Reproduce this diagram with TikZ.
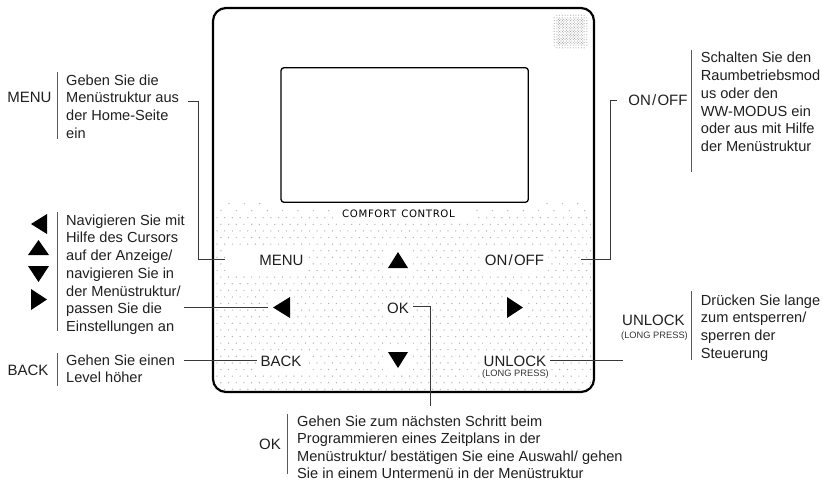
\documentclass[tikz,border=0pt]{standalone}
\usepackage{fontspec}
\setmainfont{Liberation Sans}
\newfontfamily\techfont[LetterSpace=6]{DejaVu Sans}
\tikzset{
  body/.style={inner sep=0pt,anchor=north west,align=left,text=black!88,font=\fontsize{14.6}{17.75}\selectfont},
  lab/.style={inner sep=0pt,text=black!88,font=\fontsize{15}{18}\selectfont},
  small/.style={inner sep=0pt,text=black!80,font=\fontsize{9.3}{11}\selectfont},
  bar/.style={draw=black!65,line width=0.9pt},
  lead/.style={draw=black!78,line width=0.9pt},
  tri/.style={fill=black},
  frame/.style={draw=black,line width=2.2pt,rounded corners=13pt},
  screen/.style={draw=black,line width=1.3pt,rounded corners=3pt},
  mesh/.style={fill=black!30},
  grille/.style={fill=black!38},
}
\begin{document}
\begin{tikzpicture}[x=1pt,y=-1pt]
\useasboundingbox (0,0) rectangle (823,480);
% textured lower panel
\begin{scope}
\clip[rounded corners=13pt] (213,8) rectangle (594,392);
\foreach \r in {0,...,26}{
  \pgfmathsetmacro{\yy}{217.7+6.6*\r}
  \pgfmathsetmacro{\xo}{217+3.85*mod(\r,2)}
  \foreach \c in {0,...,48}{
    \fill[mesh] ({\xo+7.7*\c},\yy) circle (0.7);
  }
}
\foreach \xx in {229,244.4,259.8,547,562.4,577.8}{\fill[mesh] (\xx,203.6) circle (0.7);}
\foreach \xx in {221,236.4,251.8,267.2,282.6,298,313.4,328.8,477,492.4,507.8,523.2,538.6,554,569.4,584.8}{\fill[mesh] (\xx,210.6) circle (0.7);}
\end{scope}
% clear areas round the printed keys
\fill[white] (334,205) rectangle (472,222);
\fill[white] (226,250) rectangle (307,271);
\fill[white] (383,248) rectangle (413,272);
\fill[white] (480,250) rectangle (548,271);
\fill[white] (268,294) rectangle (294,321);
\fill[white] (383,298) rectangle (413,319);
\fill[white] (503,294) rectangle (527,321);
\fill[white] (257,352) rectangle (306,372);
\fill[white] (383,349) rectangle (413,371);
\fill[white] (480,352) rectangle (551,382);
% speaker grille
\foreach \i in {0,...,12}{\foreach \j in {0,...,12}{
  \pgfmathtruncatemacro{\corner}{(\i==0||\i==12)&&(\j==0||\j==12)}
  \ifnum\corner=0 \fill[grille] ({554.2+2.72*\i},{15.2+2.72*\j}) circle (0.55);\fi
}}
\foreach \i in {1,...,10}{\foreach \j in {1,...,10}{
  \fill[grille] ({555.56+2.72*\i},{16.56+2.72*\j}) circle (0.55);
}}
% housing
\draw[frame] (213,8) rectangle (594,392);
\draw[screen] (281,67.7) rectangle (528.3,202.3);
\node[inner sep=0pt,anchor=base,font=\techfont\fontsize{10.2}{12}\selectfont] (brand) at (398.5,217.5) {COMFORT\hspace{5pt}CONTROL};
% keys on the panel
\node[lab,anchor=base] (menuKey) at (281.5,265) {MENU};
\node[lab,anchor=base] (onoffKey) at (514.5,265) {ON\kern1.2pt/\kern1.2pt OFF};
\node[lab,anchor=base] (okKey) at (398,313) {OK};
\node[lab,anchor=base] (backKey) at (281,366) {BACK};
\node[lab,anchor=base] (unlockKey) at (515,366) {UNLOCK};
\node[small,anchor=base] (longKey) at (515.5,376.7) {(LONG PRESS)};
\fill[tri] (388,268) -- (408,268) -- (398,252) -- cycle;
\fill[tri] (388,352) -- (408,352) -- (398,368) -- cycle;
\fill[tri] (290,297) -- (290,318) -- (273,307.5) -- cycle;
\fill[tri] (507,297) -- (507,318) -- (523,307.5) -- cycle;
\coordinate (navKey) at (268,307.3);
% MENU description
\node[lab,anchor=base] (menuLabel) at (29.5,102.7) {MENU};
\draw[bar] (57,72) coordinate (menuBarTop) -- (57,139) coordinate (menuBarEnd);
\node[body] (menuText) at (66,74.3) {Geben Sie die\\Menüstruktur aus\\der Home-Seite\\ein};
% navigation description
\fill[tri] (47,214) -- (47,234) -- (31,224) -- cycle;
\fill[tri] (28,255) -- (49,255) -- (38.5,240) -- cycle;
\fill[tri] (28,266) -- (49,266) -- (38.5,282) -- cycle;
\fill[tri] (31,289) -- (31,310) -- (47,299.5) -- cycle;
\draw[bar] (57,212) -- (57,330.7);
\node[body] (navText) at (66,214.3) {Navigieren Sie mit\\Hilfe des Cursors\\auf der Anzeige/\\navigieren Sie in\\der Menüstruktur/\\passen Sie die\\Einstellungen an};
% BACK description
\node[lab,anchor=base] (backLabel) at (28,375) {BACK};
\draw[bar] (57,353) -- (57,385.7);
\node[body] (backText) at (66,354.3) {Gehen Sie einen\\Level höher};
% ON/OFF description
\node[lab,anchor=base] (onoffLabel) at (658,105.7) {ON\kern1.2pt/\kern1.2pt OFF};
\draw[bar] (691,50) -- (691,172);
\node[body] (onoffText) at (700.7,52) {Schalten Sie den\\Raumbetriebsmod\\us oder den\\WW-MODUS ein\\oder aus mit Hilfe\\der Menüstruktur};
% UNLOCK description
\node[lab,anchor=base] (unlockLabel) at (653.5,325) {UNLOCK};
\node[small,anchor=base] (longLabel) at (654.5,338) {(LONG PRESS)};
\draw[bar] (691.7,291) -- (691.7,360);
\node[body] (unlockText) at (700.7,294.3) {Drücken Sie lange\\zum entsperren/\\sperren der\\Steuerung};
% OK description
\node[lab,anchor=base] (okLabel) at (270,449) {OK};
\draw[bar] (287.7,414) -- (287.7,474);
\node[body,font=\fontsize{14.6}{17.2}\selectfont] (okText) at (297,416) {Gehen Sie zum nächsten Schritt beim\\Programmieren eines Zeitplans in der\\Menüstruktur/ bestätigen Sie eine Auswahl/ gehen\\Sie in einem Untermenü in der Menüstruktur};
% connectors
\coordinate (menuFree) at (188,101.7);
\coordinate (onoffFree) at (617,100.7);
\coordinate (okFree) at (430,406);
\coordinate (navFree) at (184,307.3);
\coordinate (backFree) at (184,360.7);
\coordinate (unlockFree) at (623,360.7);
\draw[lead] (menuFree) -- (198,101.7) -- (198,259) -- ([xshift=-34pt]menuKey.west |- 0,259);
\draw[lead] (onoffFree) -- (610,100.7) -- (610,259) -- ([xshift=37pt]onoffKey.east |- 0,259);
\draw[lead] (navFree) -- (navKey);
\draw[lead] (backFree) -- ([xshift=-3pt]backKey.west |- 0,360.7);
\draw[lead] (unlockFree) -- ([xshift=4pt]unlockKey.east |- 0,360.7);
\draw[lead] ([xshift=4pt]okKey.east |- 0,306.7) -- (430,306.7) -- (okFree);
\end{tikzpicture}
\end{document}
